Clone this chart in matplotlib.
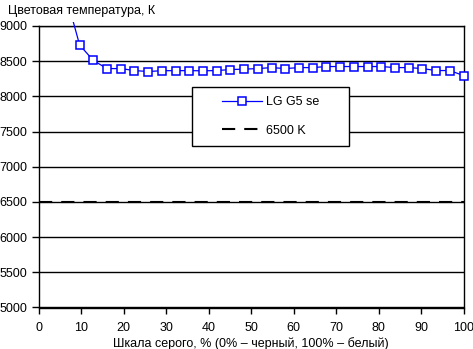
import matplotlib
matplotlib.use('Agg')
import matplotlib.pyplot as plt
from matplotlib.patches import Rectangle
from matplotlib.transforms import Bbox, TransformedBbox

plt.rcParams['font.family'] = ['Liberation Sans', 'DejaVu Sans']
plt.rcParams['lines.scale_dashes'] = False

W, H = 473, 349

# grey scale steps: 32 levels spread over 0..100 %
steps = list(range(2, 32))
gray_pct = [i * 100 / 31 for i in steps]
temp_lg = [9440, 8730, 8510, 8395, 8395, 8367, 8353, 8365, 8365, 8366,
           8363, 8367, 8381, 8387, 8395, 8409, 8395, 8409, 8409, 8424,
           8424, 8424, 8424, 8424, 8409, 8409, 8395, 8367, 8367, 8296]
ref_temp = 6500

yticks = list(range(5000, 9001, 500))
xticks = list(range(0, 101, 10))

fig = plt.figure(figsize=(W / 100, H / 100), dpi=100)
ax = fig.add_axes([38.5 / W, 1 - 307.5 / H, 425 / W, 281.5 / H])

for y in yticks:
    ax.axhline(y, color='black', linewidth=1.0, zorder=1)

ax.plot([0, 100], [ref_temp, ref_temp], color='black', linewidth=1.5,
        dashes=(9.5, 6.5), label='6500 K', zorder=2)
line, = ax.plot(gray_pct, temp_lg, color='#0000ff', linewidth=0.9,
                marker='s', markersize=5.2, markerfacecolor='white',
                markeredgecolor='#0000ff', markeredgewidth=1.1,
                label='LG G5 se', zorder=3)
# let the steep first segment run slightly above the plot frame
line.set_clip_box(TransformedBbox(Bbox([[0, -0.01], [1.02, 1.014]]), ax.transAxes))

ax.set_xlim(0, 100)
ax.set_ylim(5000, 9000)
ax.set_xticks(xticks)
ax.set_yticks(yticks)
ax.tick_params(axis='both', direction='out', width=1, labelsize=9, color='black')
ax.tick_params(axis='x', length=4.5, pad=6)
ax.tick_params(axis='y', length=5, pad=3)
for s in ax.spines.values():
    s.set_color('black')
    s.set_linewidth(1.0)

ax.set_xlabel('Шкала серого, % (0% – черный, 100% – белый)', fontsize=9, labelpad=2)
fig.text(8 / W, 1 - 11 / H, 'Цветовая температура, К', fontsize=9,
         ha='left', va='center')

# legend box with wide margins
fig.patches.append(Rectangle((192 / W, 1 - 146 / H), 157 / W, 59 / H,
                             transform=fig.transFigure, facecolor='white',
                             edgecolor='black', linewidth=1.0, zorder=4))
handles, labels = ax.get_legend_handles_labels()
leg = fig.legend(handles[::-1], labels[::-1], loc='center left',
                 bbox_to_anchor=(222 / W, 1 - 116.5 / H),
                 frameon=False, fontsize=9, handlelength=3.2,
                 handletextpad=0.35, borderpad=0, labelspacing=1.3,
                 borderaxespad=0)
leg.set_zorder(5)

fig.savefig('out.png', dpi=100)
